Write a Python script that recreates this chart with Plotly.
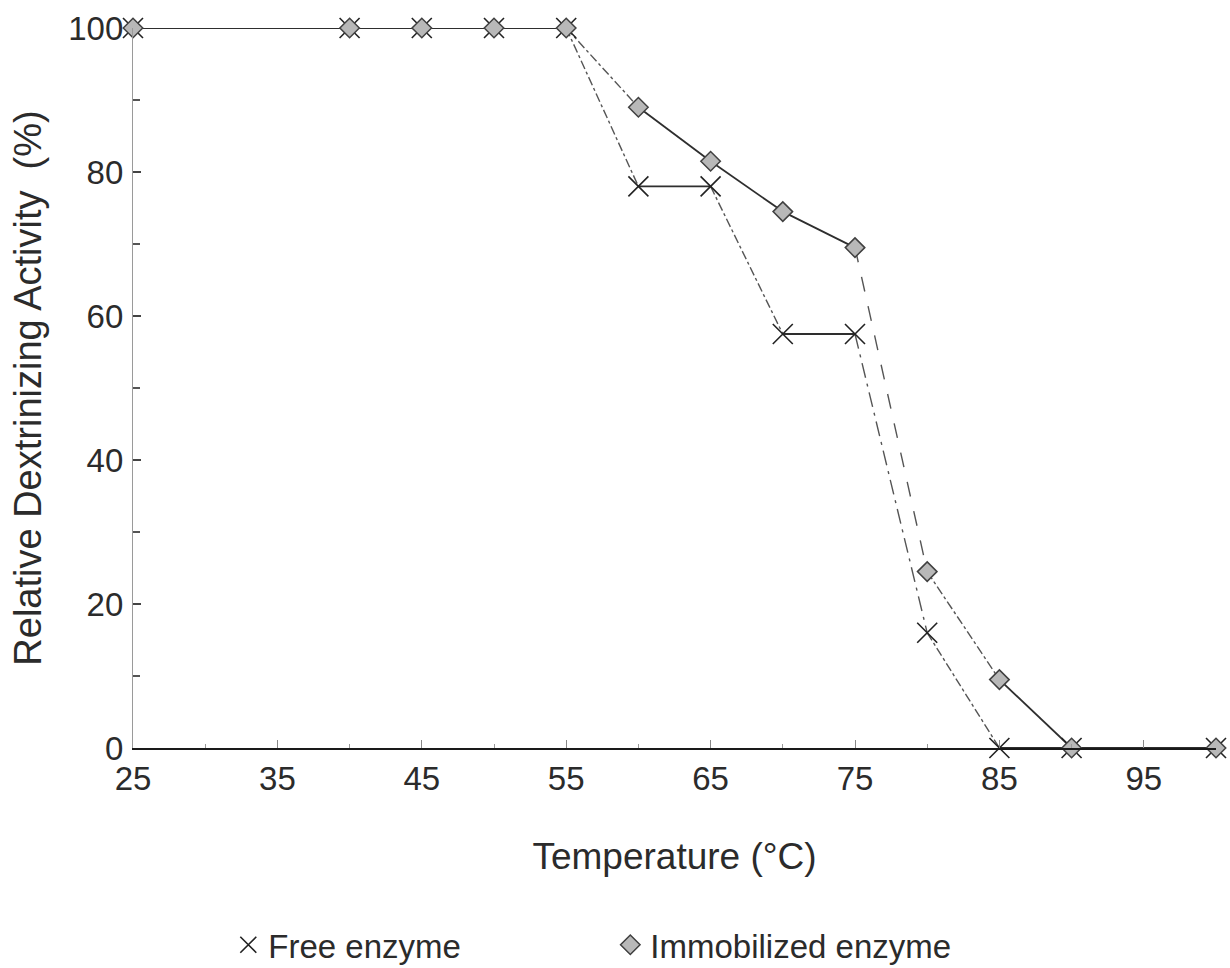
import plotly.graph_objects as go

# Temperature (°C) at which activity was measured
temperature = [25, 40, 45, 50, 55, 60, 65, 70, 75, 80, 85, 90, 100]

# Relative dextrinizing activity (%)
free_enzyme = [100, 100, 100, 100, 100, 78, 78, 57.5, 57.5, 16, 0, 0, 0]
immobilized_enzyme = [100, 100, 100, 100, 100, 89, 81.5, 74.5, 69.5, 24.5, 9.5, 0, 0]

x_ticks = [25, 35, 45, 55, 65, 75, 85, 95]
y_ticks = [0, 20, 40, 60, 80, 100]

# Dash pattern of each connecting segment (one per gap between points)
free_segment_dash = ["solid", "solid", "solid", "solid", "dashdot", "solid",
                     "dashdot", "solid", "longdashdot", "dashdot", "solid", "solid"]
immob_segment_dash = ["solid", "solid", "solid", "solid", "dashdot", "solid",
                      "solid", "solid", "longdash", "dashdot", "solid", "solid"]

FONT = "Liberation Sans, Arial, sans-serif"
INK = "#2b2b2b"

fig = go.Figure()


def add_segments(xs, ys, dashes):
    for i, dash in enumerate(dashes):
        solid = dash == "solid"
        fig.add_trace(go.Scatter(
            x=xs[i:i + 2], y=ys[i:i + 2], mode="lines",
            line=dict(color="#2e2e2e" if solid else "#555555",
                      width=1.8 if solid else 1.4, dash=dash),
            showlegend=False, hoverinfo="skip", cliponaxis=False,
        ))


add_segments(temperature, free_enzyme, free_segment_dash)
add_segments(temperature, immobilized_enzyme, immob_segment_dash)

fig.add_trace(go.Scatter(
    x=temperature, y=free_enzyme, name="Free enzyme",
    mode="markers",
    marker=dict(symbol="x-thin-open", size=20, color="#222222",
                line=dict(color="#222222", width=1.6)),
    cliponaxis=False,
))

fig.add_trace(go.Scatter(
    x=temperature, y=immobilized_enzyme, name="Immobilized enzyme",
    mode="markers",
    marker=dict(symbol="diamond", size=15, color="#b8b8b8",
                line=dict(color="#404040", width=1.5)),
    cliponaxis=False,
))

fig.update_layout(
    width=1230, height=968,
    margin=dict(l=133, r=14, t=28, b=220, autoexpand=False),
    paper_bgcolor="white", plot_bgcolor="white",
    font=dict(family=FONT, size=33, color=INK),
    showlegend=True,
    legend=dict(
        orientation="h",
        x=0.088, xanchor="left",
        yref="container", y=0.024, yanchor="middle",
        font=dict(size=33, color=INK),
        itemwidth=30,
        entrywidth=337, entrywidthmode="pixels",
        bgcolor="rgba(0,0,0,0)",
    ),
    xaxis=dict(
        range=[25, 100],
        tickvals=x_ticks,
        ticktext=[str(v) for v in x_ticks],
        ticks="inside", ticklen=8, tickwidth=1, tickcolor="#888888",
        minor=dict(tickvals=[30, 40, 50, 60, 70, 80, 90], ticks="inside",
                   ticklen=4, tickcolor="#999999"),
        showline=True, linecolor="#1a1a1a", linewidth=2,
        showgrid=False, zeroline=False, automargin=False,
        tickfont=dict(size=33),
        title=dict(text="Temperature (°C)", font=dict(size=37), standoff=48),
    ),
    yaxis=dict(
        range=[0, 100],
        tickvals=y_ticks,
        ticktext=[str(v) for v in y_ticks],
        ticks="inside", ticklen=8, tickwidth=1.5, tickcolor="#444444",
        minor=dict(tickvals=[10, 30, 50, 70, 90], ticks="inside",
                   ticklen=7, tickwidth=1.5, tickcolor="#555555"),
        showline=True, linecolor="#9a9a9a", linewidth=1.2,
        showgrid=False, zeroline=False, automargin=False,
        tickfont=dict(size=33),
        ticklabelstandoff=2,
        title=dict(text="Relative Dextrinizing Activity  (%)", font=dict(size=38), standoff=14),
    ),
)

fig.write_html("out.html")
